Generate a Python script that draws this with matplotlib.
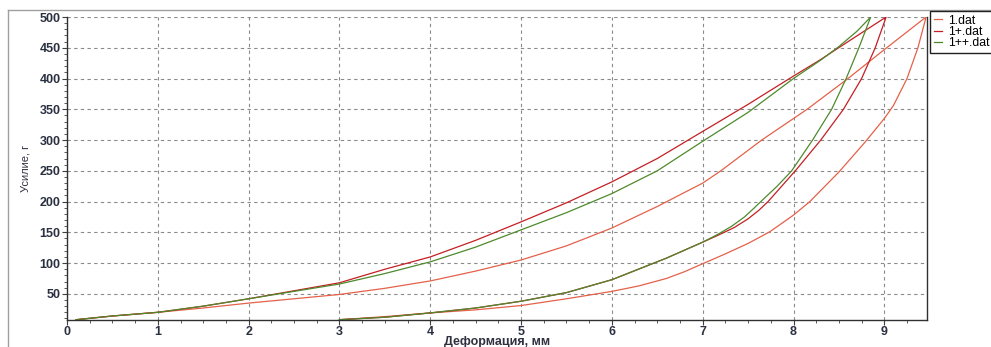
import matplotlib
matplotlib.use('Agg')
import matplotlib.pyplot as plt
from matplotlib import ticker
from matplotlib.lines import Line2D

plt.rcParams['font.family'] = ['Liberation Sans', 'DejaVu Sans']

# 1.dat - нагрузка / разгрузка
x_1_up = [0.1, 0.5, 1, 1.5, 2, 2.5, 3, 3.5, 4, 4.5, 5, 5.5, 6, 6.5, 7, 7.2, 7.65, 8.15, 8.6, 9.0, 9.46]
y_1_up = [8, 14, 20, 27, 35, 42, 49, 59, 71, 87, 105, 128, 157, 192, 230, 250, 300, 350, 400, 447, 500]
x_1_dn = [9.46, 9.37, 9.25, 9.1, 9.0, 8.79, 8.5, 8.18, 8.0, 7.74, 7.5, 7.25, 7.0, 6.8, 6.6, 6.3, 6.0,
          5.5, 5.0, 4.5, 4.0, 3.5, 3.0]
y_1_dn = [500, 450, 400, 356, 335, 297, 248, 200, 178, 151, 132, 115, 99, 86, 75, 63, 54,
          42, 31, 24, 19, 13, 8]

# 1+.dat
x_2_up = [0.1, 0.5, 1, 1.5, 2, 2.5, 3, 3.5, 4, 4.5, 5, 5.5, 6, 6.5, 7, 7.5, 7.63, 8, 8.29, 8.57, 8.8, 9.02]
y_2_up = [8, 14, 20, 30, 42, 55, 68, 90, 110, 137, 167, 198, 232, 270, 314, 358, 370, 404, 430, 457, 479, 500]
x_2_dn = [9.02, 8.9, 8.75, 8.55, 8.3, 8.02, 7.87, 7.72, 7.62, 7.5, 7.35, 7.18, 7.0, 6.8, 6.6,
          6.0, 5.5, 5.0, 4.5, 4.0, 3.5, 3.0]
y_2_dn = [500, 450, 400, 350, 300, 250, 225, 200, 186, 172, 158, 146, 134, 121, 108,
          73, 52, 38, 27, 19, 12, 8]

# 1++.dat
x_3_up = [0.1, 0.5, 1, 1.5, 2, 2.5, 3, 3.5, 4, 4.5, 5, 5.5, 6, 6.5, 7, 7.5, 8, 8.3, 8.5, 8.7, 8.85]
y_3_up = [8, 14, 20, 30, 42, 54, 66, 83, 102, 126, 154, 182, 213, 250, 298, 345, 400, 430, 452, 477, 500]
x_3_dn = [8.85, 8.72, 8.58, 8.42, 8.21, 7.98, 7.82, 7.64, 7.57, 7.46, 7.32, 7.17, 7.0, 6.8, 6.6,
          6.0, 5.5, 5.0, 4.5, 4.0, 3.5, 3.0]
y_3_dn = [500, 450, 400, 350, 300, 250, 225, 200, 190, 175, 160, 147, 134, 121, 108,
          73, 52, 38, 27, 19, 12, 8]

names = ['1.dat', '1+.dat', '1++.dat']
colors = ['#e4614a', '#c41f24', '#4e8a2c']

fig = plt.figure(figsize=(9.91, 3.47), dpi=100)
ax = fig.add_axes([67 / 991, 1 - 320 / 347, (927 - 67) / 991, (320 - 17) / 347])

series = [(x_1_up + x_1_dn, y_1_up + y_1_dn),
          (x_2_up + x_2_dn, y_2_up + y_2_dn),
          (x_3_up + x_3_dn, y_3_up + y_3_dn)]
for (xs, ys), name, c in zip(series, names, colors):
    ax.plot(xs, ys, color=c, lw=0.9, label=name)

ax.set_xlim(0, 9.47)
ax.set_ylim(7.5, 500)
ax.xaxis.set_major_locator(ticker.MultipleLocator(1))
ax.xaxis.set_minor_locator(ticker.MultipleLocator(0.25))
ax.set_yticks([50, 100, 150, 200, 250, 300, 350, 400, 450, 500])
ax.yaxis.set_minor_locator(ticker.MultipleLocator(10))
ax.tick_params(which='both', direction='out', colors='#404040', labelcolor='#2a3040', labelsize=9)
ax.tick_params(which='major', length=3.5)
ax.tick_params(which='minor', length=2.5)
ax.tick_params(axis='x', pad=0.5)
ax.tick_params(axis='y', pad=1)
for lbl in ax.get_xticklabels() + ax.get_yticklabels():
    lbl.set_fontweight('bold')

ax.grid(True, which='major', color='#8a8a8a', linestyle=(0, (3, 3)), lw=0.8)
ax.spines['top'].set_visible(False)
for s in ['left', 'bottom', 'right']:
    ax.spines[s].set_color('#303030')
    ax.spines[s].set_linewidth(1.0)

ax.set_xlabel('Деформация, мм', fontsize=9, color='#303040', fontweight='bold')
ax.xaxis.label.set_va('center')
ax.xaxis.set_label_coords(0.5, (320 - 342) / 303)
ax.set_ylabel('Усилие, г', fontsize=8, color='#303040')
ax.yaxis.label.set_va('center')
ax.yaxis.set_label_coords(-(67 - 25) / 860, 0.5)

# внешняя рамка
fig.add_artist(Line2D([8 / 991, 1], [1 - 10 / 347, 1 - 10 / 347], transform=fig.transFigure, color='#a0a0a0', lw=1))
fig.add_artist(Line2D([8 / 991, 8 / 991], [0, 1 - 10 / 347], transform=fig.transFigure, color='#a0a0a0', lw=1))

leg = fig.legend(loc='upper left', bbox_to_anchor=(930 / 991, 1 - 11 / 347), fontsize=8.8,
                 handlelength=0.7, handletextpad=0.5, labelspacing=-0.05, borderpad=0.3,
                 fancybox=False, framealpha=1, borderaxespad=0)
leg.get_frame().set_edgecolor('#202020')
leg.get_frame().set_linewidth(1.0)

plt.savefig('out.png', dpi=100)
